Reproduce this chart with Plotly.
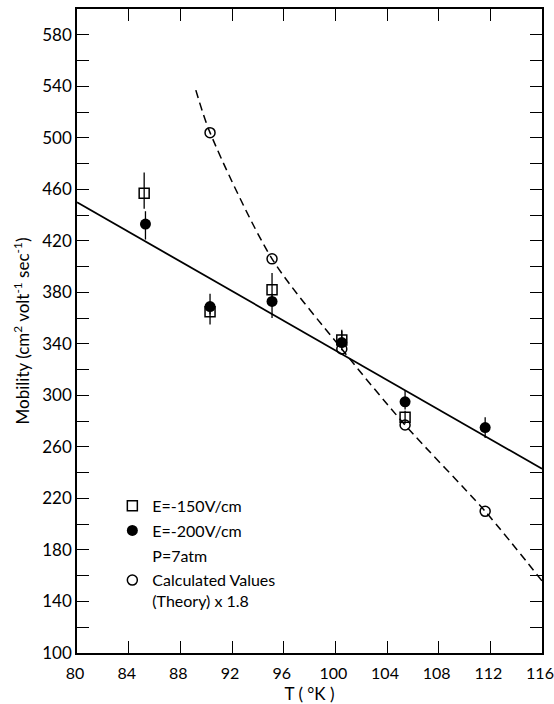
import plotly.graph_objects as go

# ---- data ----
T_e150 = [85.2, 90.3, 95.1, 100.5, 105.4]
M_e150 = [457, 365, 382, 343, 283]
E150_plus = [16, 6, 13, 8, 5]
E150_minus = [12, 10, 6, 5, 5]

T_e200 = [85.3, 90.3, 95.1, 100.5, 105.4, 111.6]
M_e200 = [433, 369, 373, 341, 295, 275]
E200_plus = [10, 10, 6, 9, 9, 8]
E200_minus = [12, 6, 13, 6, 6, 8]

T_theory = [90.3, 95.1, 100.5, 105.4, 111.6]
M_theory = [504, 406, 336, 277, 210]

T_curve = [89.2, 90.3, 95.1, 100.5, 105.4, 111.6, 116.0]
M_curve = [537, 504, 406, 336, 277, 210, 156]

T_fit = [80, 116]
M_fit = [450, 243]

x_ticks = [80, 84, 88, 92, 96, 100, 104, 108, 112, 116]
y_ticks = [100, 140, 180, 220, 260, 300, 340, 380, 420, 460, 500, 540, 580]

FONT = "Lato"

fig = go.Figure()

fig.add_trace(go.Scatter(x=T_fit, y=M_fit, mode="lines",
                         line=dict(color="black", width=1.8),
                         showlegend=False, hoverinfo="skip"))
fig.add_trace(go.Scatter(x=T_curve, y=M_curve, mode="lines",
                         line=dict(color="black", width=1.5, dash="8px,5px",
                                   shape="spline", smoothing=0.8),
                         showlegend=False, hoverinfo="skip"))

fig.add_trace(go.Scatter(
    x=T_e150, y=M_e150, mode="markers", name="E=-150V/cm",
    marker=dict(symbol="square-open", size=10, color="black",
                line=dict(width=1.5, color="black")),
    error_y=dict(type="data", symmetric=False, array=E150_plus,
                 arrayminus=E150_minus, color="black", thickness=1.3, width=0),
    legendgroup="a", legendrank=1))
fig.add_trace(go.Scatter(
    x=T_e200, y=M_e200, mode="markers", name="E=-200V/cm",
    marker=dict(symbol="circle", size=11, color="black"),
    error_y=dict(type="data", symmetric=False, array=E200_plus,
                 arrayminus=E200_minus, color="black", thickness=1.3, width=0),
    legendgroup="b", legendrank=2))
fig.add_trace(go.Scatter(
    x=[None], y=[None], mode="markers", name="P=7atm",
    marker=dict(color="rgba(0,0,0,0)", size=1),
    legendgroup="c", legendrank=3))
fig.add_trace(go.Scatter(
    x=T_theory, y=M_theory, mode="markers",
    name="Calculated Values<br>(Theory) x 1.8",
    marker=dict(symbol="circle-open", size=10, color="black",
                line=dict(width=1.5, color="black")),
    legendgroup="d", legendrank=4))

axis_common = dict(showline=True, linecolor="black", linewidth=1.5, mirror="ticks",
                   ticks="inside", ticklen=12, tickwidth=1.2, tickcolor="black",
                   showgrid=False, zeroline=False, ticklabeloverflow="allow",
                   automargin=False)

fig.update_layout(
    width=554, height=704,
    margin=dict(l=77, r=12, t=9, b=51),
    paper_bgcolor="white", plot_bgcolor="white",
    font=dict(family=FONT, color="black"),
    xaxis=dict(range=[80, 116], tickvals=x_ticks, ticktext=[str(v) for v in x_ticks],
               ticklabelstandoff=5, ticklabelshift=-2,
               tickfont=dict(family=FONT, size=16, color="black"),
               title=dict(text="T ( °K )", font=dict(family=FONT, size=17), standoff=16),
               **axis_common),
    yaxis=dict(range=[100, 600], tickvals=y_ticks, ticktext=[str(v) for v in y_ticks],
               tickfont=dict(family=FONT, size=17, color="black"),
               minor=dict(ticks="inside", ticklen=12, tickwidth=1.2, tickcolor="black",
                          tick0=100, dtick=20, showgrid=False),
               title=dict(text="Mobility (cm<sup>2</sup> volt<sup>-1</sup> sec<sup>-1</sup>)",
                          font=dict(family=FONT, size=17), standoff=8),
               **axis_common),
    legend=dict(x=0.076, y=0.255, xanchor="left", yanchor="top",
                bgcolor="rgba(0,0,0,0)", borderwidth=0,
                font=dict(family=FONT, size=16, color="black"),
                tracegroupgap=1, valign="top", traceorder="grouped"),
)

fig.write_html("out.html", config={"displayModeBar": False},
               post_script="document.body.style.margin='0';document.body.style.overflow='hidden';")
